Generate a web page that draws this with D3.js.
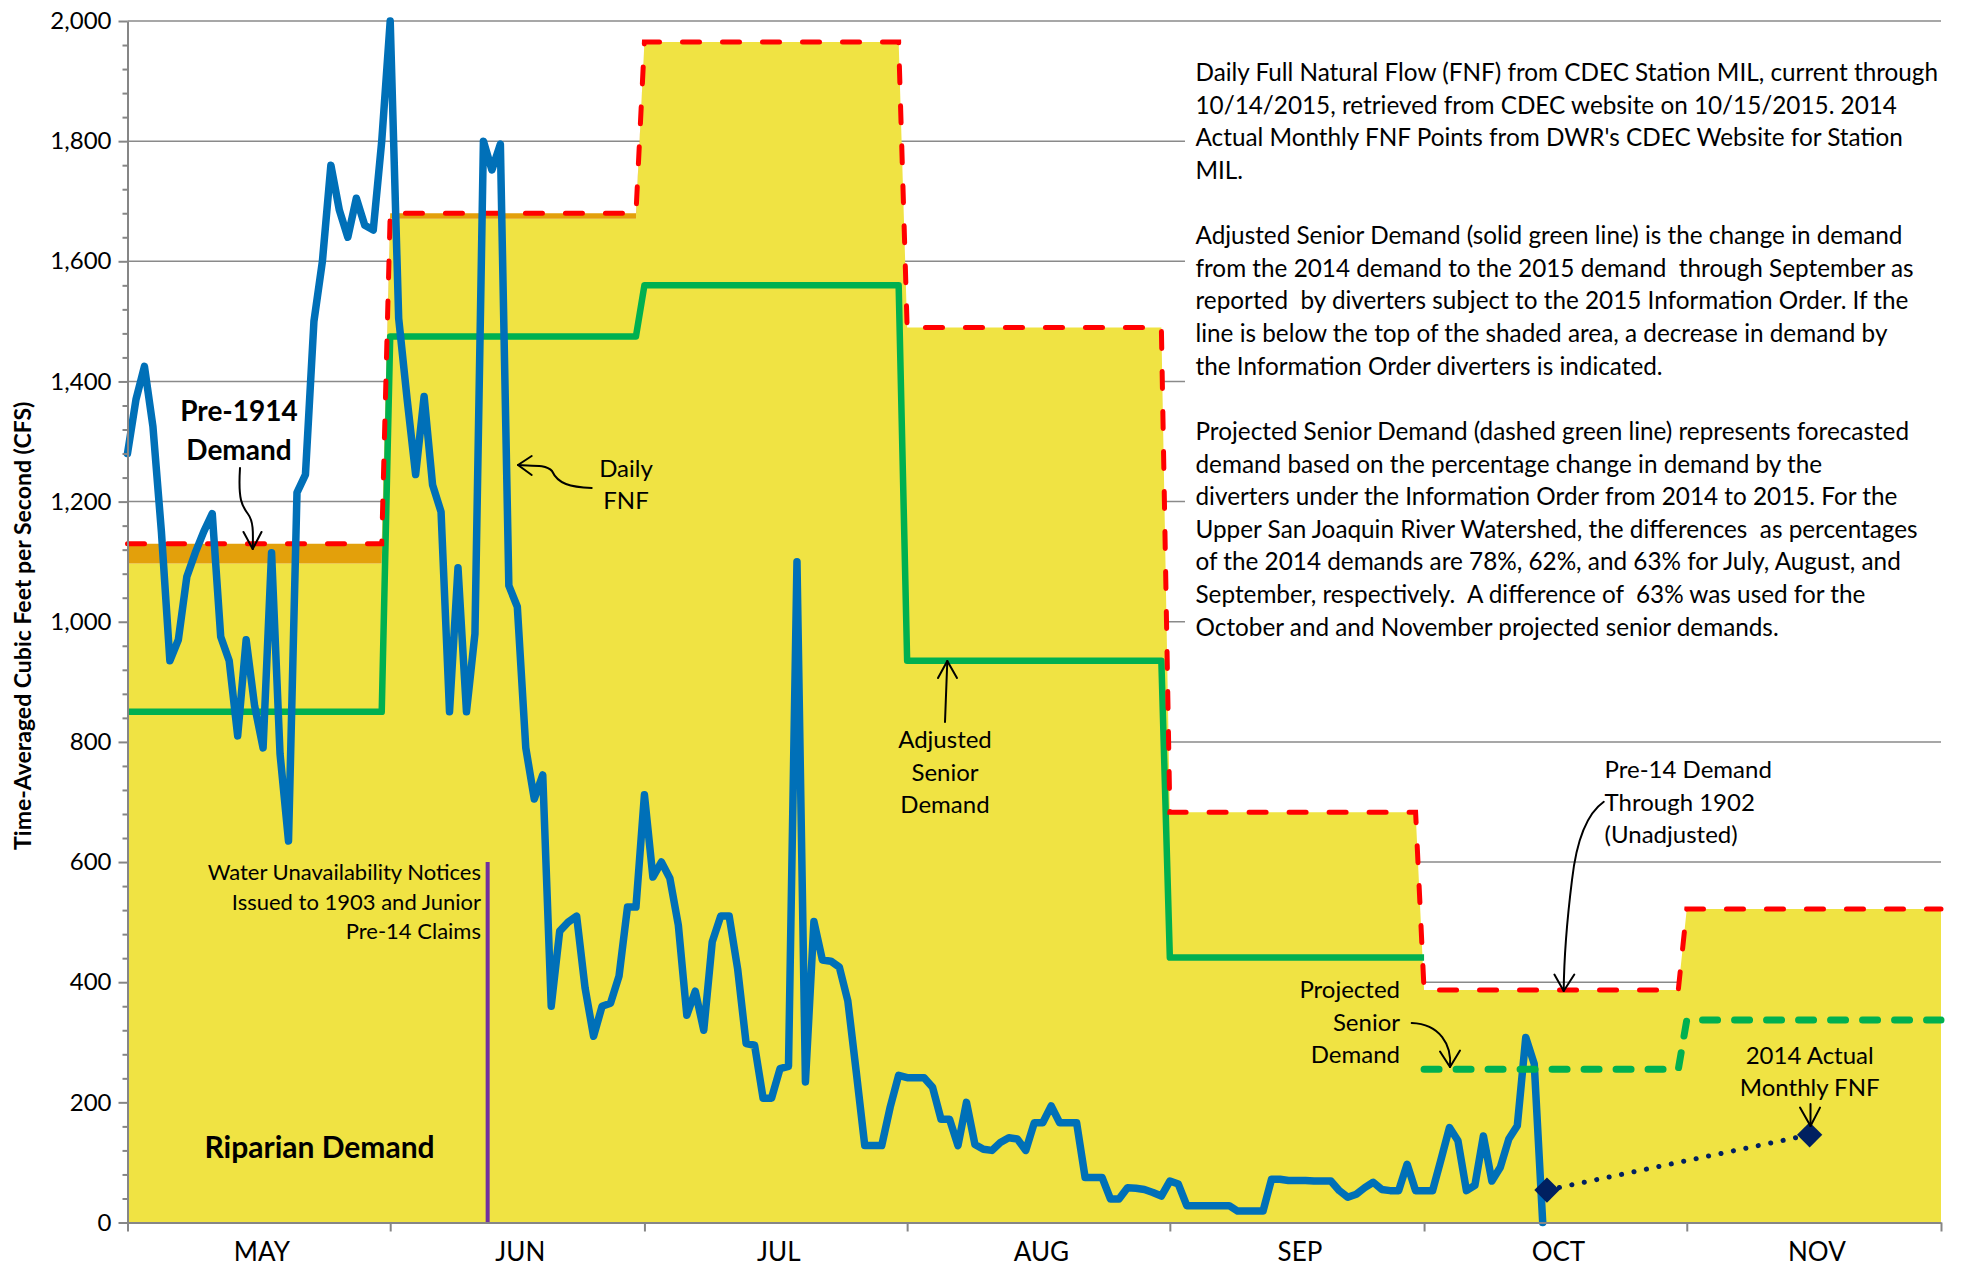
<!DOCTYPE html>
<html>
<head>
<meta charset="utf-8">
<title>Upper San Joaquin - MIL supply and demand</title>
<script src="https://d3js.org/d3.v7.min.js"></script>
<style>
    body { margin:0; background:#fff; }
    svg { display:block; font-family: Lato, 'Open Sans', sans-serif; }
    .grid line { stroke:#8a8a8a; stroke-width:1.5; }
    .axis path, .axis line { stroke:#868686; stroke-width:2; }
    .axis text { font-family: Lato, sans-serif; font-size:24px; fill:#000; }
    .note { font-size:24px; fill:#000; }
    .arrow { fill:none; stroke:#000; stroke-width:2; stroke-linecap:round; stroke-linejoin:round; }
</style>
</head>
<body>
<svg id="chart" width="1961" height="1267"></svg>
<script>

// ---- data ----
const monthNames = ['MAY', 'JUN', 'JUL', 'AUG', 'SEP', 'OCT', 'NOV'];

// daily full natural flow, May 1 .. Oct 15 2015 (cfs)
const fnfDaily = [
    1280, 1370, 1425, 1325, 1150, 935, 970, 1075, 1115, 1150, 1180, 975, 935, 810, 970, 860,
    790, 1115, 780, 635, 1215, 1245, 1500, 1600, 1760, 1685, 1640, 1705, 1660, 1652, 1800,
    2000, 1505, 1370, 1245, 1375, 1228, 1183, 850, 1090, 850, 980, 1800, 1752, 1795, 1060,
    1025, 790, 705, 745, 360, 485, 500, 510, 390, 310, 360, 365, 410, 525, 525,
    712, 575, 600, 573, 495, 345, 385, 320, 467, 510, 510, 422, 298, 295, 207, 207,
    256, 260, 1100, 234, 501, 437, 435, 425, 369, 250, 128, 128, 128, 192, 245,
    241, 241, 241, 225, 172, 172, 128, 200, 130, 122, 120, 133, 141, 139, 120, 166,
    166, 194, 166, 166, 166, 75, 75, 75, 39, 39, 58, 57, 55, 50, 44,
    69, 64, 28, 28, 28, 28, 28, 28, 19, 19, 19, 19, 72, 72, 70, 70, 70, 69, 69, 69,
    53, 42, 47, 58, 67, 55, 53, 53, 97, 53,
    53, 53, 105, 158, 136, 53, 62, 144, 69, 92, 139, 161, 308, 264, 0
];

// monthly demand steps, May .. Nov
const pre14Demand   = [1130, 1680, 1965, 1490, 683, 387, 522];   // red dashed, top of orange
const riparianTop   = [1097, 1671, 1965, 1490, 683, 387, 522];   // top of yellow
const adjustedSenior = [850, 1475, 1560, 935, 441];              // May .. Sep
const projectedSenior = [255, 337];                             // Oct, Nov

// 2014 actual monthly FNF, plotted mid-month
const actualDates = ['2015-10-15T12:00', '2015-11-15T12:00'];
const actualFnf = [54, 146];

const noticeDate = new Date(2015, 5, 12, 12);
const noticeLevel = 600;

const yTicks = d3.range(0, 2001, 200);
const yMinor = d3.range(0, 2001, 40).filter(d => d % 200 !== 0);

// ---- layout ----
const svg = d3.select('#chart');
const plotL = 127.5, plotR = 1941, plotT = 21, plotB = 1222.5;

const start = new Date(2015, 4, 1);
const end = new Date(2015, 11, 1);
const monthStarts = d3.timeMonth.range(start, new Date(2015, 11, 2));

const x = d3.scaleTime().domain([start, end]).range([plotL, plotR]);
const y = d3.scaleLinear().domain([0, 2000]).range([plotB, plotT]);

// monthly values -> points at first and last day of each month
function steps(values, firstMonth) {
    const pts = [];
    values.forEach((v, k) => {
        const m0 = monthStarts[firstMonth + k];
        const m1 = monthStarts[firstMonth + k + 1];
        const last = k === values.length - 1 ? m1 : d3.timeDay.offset(m1, -1);
        pts.push({date: m0, v: v}, {date: last, v: v});
    });
    return pts;
}

// gridlines
svg.append('g').attr('class', 'grid')
    .selectAll('line')
    .data(yTicks.filter(d => d > 0))
    .join('line')
    .attr('x1', plotL).attr('x2', plotR)
    .attr('y1', d => y(d)).attr('y2', d => y(d));

// stacked demand areas
const ripPts = steps(riparianTop, 0);
const prePts = steps(pre14Demand, 0);

svg.append('path')
    .datum(ripPts)
    .attr('fill', '#f0e343')
    .attr('d', d3.area().x(d => x(d.date)).y0(y(0)).y1(d => y(d.v)));

svg.append('path')
    .datum(prePts.map((d, i) => ({date: d.date, lo: ripPts[i].v, hi: d.v})))
    .attr('fill', '#e3a00b')
    .attr('d', d3.area().x(d => x(d.date)).y0(d => y(d.lo)).y1(d => y(d.hi)));

// notice date marker
svg.append('line')
    .attr('x1', x(noticeDate)).attr('x2', x(noticeDate))
    .attr('y1', y(0)).attr('y2', y(noticeLevel))
    .attr('stroke', '#7030a0').attr('stroke-width', 4);

const line = d3.line().x(d => x(d.date)).y(d => y(d.v));

// adjusted senior demand (solid green)
svg.append('path')
    .datum(steps(adjustedSenior, 0))
    .attr('fill', 'none').attr('stroke', '#00b050').attr('stroke-width', 6.5)
    .attr('stroke-linejoin', 'round')
    .attr('d', line);

// pre-14 demand through 1902 (red dashed)
svg.append('path')
    .datum(prePts)
    .attr('fill', 'none').attr('stroke', '#ff0000').attr('stroke-width', 5)
    .attr('stroke-dasharray', '17 23').attr('stroke-linecap', 'round')
    .attr('d', line);

// daily FNF (blue)
const fnfPts = fnfDaily.map((v, i) => ({date: d3.timeDay.offset(start, i), v: v}));
svg.append('path')
    .datum(fnfPts)
    .attr('fill', 'none').attr('stroke', '#0070b8').attr('stroke-width', 7.5)
    .attr('stroke-linejoin', 'round').attr('stroke-linecap', 'round')
    .attr('d', line);

// projected senior demand (dashed green)
svg.append('path')
    .datum(steps(projectedSenior, 5))
    .attr('fill', 'none').attr('stroke', '#00b050').attr('stroke-width', 7)
    .attr('stroke-dasharray', '15 17').attr('stroke-linecap', 'round')
    .attr('d', line);

// 2014 actual monthly FNF
const actualPts = actualDates.map((d, i) => ({date: new Date(d), v: actualFnf[i]}));
svg.append('path')
    .datum(actualPts)
    .attr('fill', 'none').attr('stroke', '#002060').attr('stroke-width', 5)
    .attr('stroke-dasharray', '0.1 12.6').attr('stroke-linecap', 'round')
    .attr('d', line);
svg.append('g').selectAll('path')
    .data(actualPts)
    .join('path')
    .attr('fill', '#002060')
    .attr('transform', d => `translate(${x(d.date)},${y(d.v)}) rotate(45)`)
    .attr('d', d3.symbol(d3.symbolSquare, 320));

// axes
svg.append('g').attr('class', 'axis')
    .attr('transform', `translate(${plotL},0)`)
    .call(d3.axisLeft(y).tickValues(yTicks).tickSize(9).tickSizeOuter(0)
        .tickPadding(7).tickFormat(d3.format(',')));
svg.append('g').attr('class', 'axis')
    .attr('transform', `translate(${plotL},0)`)
    .call(d3.axisLeft(y).tickValues(yMinor).tickSize(5).tickSizeOuter(0).tickFormat(''))
    .select('.domain').remove();

svg.append('g').attr('class', 'axis')
    .attr('transform', `translate(0,${plotB})`)
    .call(d3.axisBottom(x).tickValues(monthStarts).tickSize(9).tickSizeOuter(0).tickFormat(''));

svg.append('g').selectAll('text')
    .data(monthNames)
    .join('text')
    .attr('x', (d, i) => (x(monthStarts[i]) + x(monthStarts[i + 1])) / 2 + 3)
    .attr('y', 1261)
    .attr('text-anchor', 'middle')
    .style('font-size', '26px')
    .text(d => d);

svg.append('text')
    .attr('transform', `translate(31,${(plotT + plotB) / 2 + 4}) rotate(-90)`)
    .attr('text-anchor', 'middle')
    .style('font-size', '23px').style('font-weight', 'bold')
    .text('Time-Averaged Cubic Feet per Second (CFS)');

// ---- notes block on the right ----
const notes = [
    'Daily Full Natural Flow (FNF) from CDEC Station MIL, current through',
    '10/14/2015, retrieved from CDEC website on 10/15/2015. 2014',
    "Actual Monthly FNF Points from DWR's CDEC Website for Station",
    'MIL.',
    '',
    'Adjusted Senior Demand (solid green line) is the change in demand',
    'from the 2014 demand to the 2015 demand  through September as',
    'reported  by diverters subject to the 2015 Information Order. If the',
    'line is below the top of the shaded area, a decrease in demand by',
    'the Information Order diverters is indicated.',
    '',
    'Projected Senior Demand (dashed green line) represents forecasted',
    'demand based on the percentage change in demand by the',
    'diverters under the Information Order from 2014 to 2015. For the',
    'Upper San Joaquin River Watershed, the differences  as percentages',
    'of the 2014 demands are 78%, 62%, and 63% for July, August, and',
    'September, respectively.  A difference of  63% was used for the',
    'October and and November projected senior demands.'
];

svg.append('rect')
    .attr('x', 1185).attr('y', 38).attr('width', 776).attr('height', 612)
    .attr('fill', '#fff');

const block = svg.append('text')
    .attr('class', 'note')
    .style('white-space', 'pre')
    .style('font-size', '22px');
block.selectAll('tspan')
    .data(notes)
    .join('tspan')
    .attr('x', 1195.5)
    .attr('y', (d, i) => 81 + i * 32.63)
    .text(d => d);

// fit the longest line to the width seen in the original
const firstLen = block.select('tspan').node().getComputedTextLength();
block.style('font-size', (22 * 743 / firstLen).toFixed(2) + 'px');

// ---- annotations ----
function label(lines, tx, ty, anchor, size, weight, gap) {
    const t = svg.append('text')
        .attr('text-anchor', anchor)
        .style('font-size', size + 'px')
        .style('font-weight', weight);
    t.selectAll('tspan').data(lines).join('tspan')
        .attr('x', tx).attr('y', (d, i) => ty + i * gap)
        .text(d => d);
}

function arrow(pathD, a1, tip, a2) {
    svg.append('path').attr('class', 'arrow').attr('d', pathD);
    svg.append('path').attr('class', 'arrow')
        .attr('d', `M${a1[0]},${a1[1]}L${tip[0]},${tip[1]}L${a2[0]},${a2[1]}`);
}

label(['Pre-1914', 'Demand'], 239, 421, 'middle', 28, 'bold', 39);
arrow('M240,468 C238,500 242,506 248,514 S253,535 252.7,549',
      [243.5, 532], [252.7, 549], [261.5, 532]);

label(['Daily', 'FNF'], 626, 477, 'middle', 24, 'normal', 32);
arrow('M591.7,488 C570,487 558,484 552,471 C546,464 530,466 518,465',
      [531.7, 456], [518, 465], [531.7, 475]);

label(['Adjusted', 'Senior', 'Demand'], 945, 748, 'middle', 24, 'normal', 32.5);
arrow('M945,722 L947.3,661', [938, 678], [947.3, 661], [957, 678]);

label(['Projected', 'Senior', 'Demand'], 1400, 998, 'end', 24, 'normal', 32.5);
arrow('M1411.7,1023 C1440,1024 1452,1045 1450,1067',
      [1440, 1051.5], [1450, 1067], [1460, 1050.5]);

label(['Pre-14 Demand', 'Through 1902', '(Unadjusted)'], 1604.6, 778, 'start', 24, 'normal', 32.5);
arrow('M1603.8,801.8 C1585,815 1576,845 1572,880 C1567,920 1564,960 1563.7,991',
      [1554.4, 974.5], [1563.7, 991], [1574.3, 974.5]);

label(['2014 Actual', 'Monthly FNF'], 1809.7, 1064, 'middle', 24, 'normal', 31.5);
arrow('M1810.5,1104 L1810.5,1126', [1800, 1107.6], [1810.5, 1126], [1820, 1107.6]);

label(['Water Unavailability Notices', 'Issued to 1903 and Junior', 'Pre-14 Claims'],
      481, 880, 'end', 22, 'normal', 29.5);

label(['Riparian Demand'], 204.5, 1158, 'start', 30, 'bold', 0);

</script>
</body>
</html>
